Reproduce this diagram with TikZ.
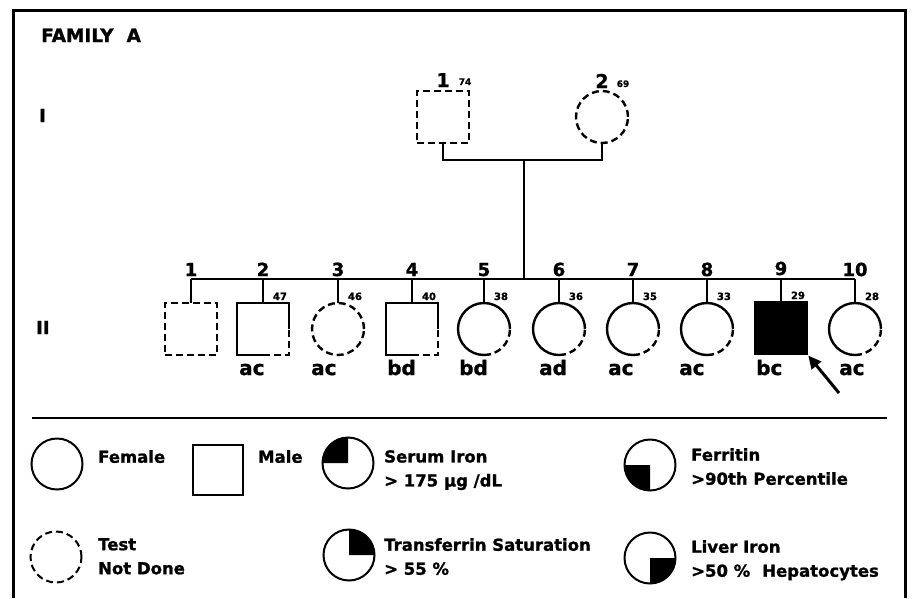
\documentclass[tikz,border=0pt]{standalone}
\usepackage{fontspec}
\setmainfont{DejaVu Sans}[BoldFeatures={FakeBold=1.2}]
\usetikzlibrary{positioning, arrows.meta, calc}

\begin{document}
\begin{tikzpicture}[x=1pt, y=-1pt, line width=2.4pt,
  fem/.style={circle, minimum size=52pt, inner sep=0pt, outer sep=0pt},
  mal/.style={rectangle, minimum size=52pt, inner sep=0pt, outer sep=0pt},
  untested/.style={dash pattern=on 7pt off 4pt},
  num/.style={font=\bfseries\fontsize{18}{18}\selectfont, inner sep=0pt, anchor=base},
  age/.style={font=\bfseries\fontsize{10}{10}\selectfont, inner sep=0pt, anchor=base},
  geno/.style={font=\bfseries\fontsize{20}{20}\selectfont, inner sep=0pt, anchor=base west},
  legtxt/.style={font=\bfseries\fontsize{16.5}{24}\selectfont, inner sep=0pt, anchor=north west, align=left},
  legsym/.style={draw, line width=2pt, minimum size=51pt, inner sep=0pt, outer sep=0pt}]
\useasboundingbox (0,0) rectangle (913,598);
% frame
\draw[line width=3pt] (13,598) -- (13,10) -- (905,10) -- (905,598);
\node[font=\bfseries\fontsize{18.5}{18}\selectfont, anchor=base west, inner sep=0pt] (title) at (40,42) {FAMILY\hspace{13pt}A};
\node[num, anchor=base west] (genI) at (38,122) {I};
\node[num, anchor=base west] (genII) at (35,334) {II};

% generation I
\node[mal, draw, untested] (i1) at (443,117) {};
\node[fem, draw, untested] (i2) at (602,117) {};
\node[num, font=\bfseries\fontsize{19}{19}\selectfont] (n-i1) at ($(i1.north)+(0pt,4pt)$) {1};
\node[num, font=\bfseries\fontsize{19}{19}\selectfont] (n-i2) at ($(i2.north)+(0pt,3pt)$) {2};
\node[age, font=\bfseries\fontsize{9}{9}\selectfont] (a-i1) at ($(i1.north)+(22pt,6pt)$) {74};
\node[age, font=\bfseries\fontsize{9}{9}\selectfont] (a-i2) at ($(i2.north)+(21pt,4pt)$) {69};
\coordinate (mate) at (524,160);
\draw (i1.south) |- (mate) -| (i2.south);

% generation II
\node[mal, draw, untested] (ii1) at (191,329) {};
\node[mal] (ii2) at (263,329) {};
\node[fem, draw, untested] (ii3) at (338,329) {};
\node[mal] (ii4) at (412,329) {};
\node[fem] (ii5) at (484,329) {};
\node[fem] (ii6) at (559,329) {};
\node[fem] (ii7) at (633,329) {};
\node[fem] (ii8) at (707,329) {};
\node[mal, draw, fill] (ii9) at (781,328) {};
\node[fem] (ii10) at (855,329) {};
\foreach \p in {ii2, ii4} {
  \draw (\p.east) |- (\p.north west) |- (\p.south);
  \draw[untested] (\p.south) -| (\p.east);
}
\foreach \p in {ii5, ii6, ii7, ii8, ii10} {
  \draw (\p.east) arc[start angle=0, end angle=270, radius=26pt];
  \draw[untested] (\p.south) arc[start angle=270, end angle=360, radius=26pt];
}
\coordinate (sibl) at (191,279);
\coordinate (sibr) at (855,279);
\draw (mate) -- (mate |- sibl);
\draw (sibl) -- (sibr);
\foreach \p/\n in {ii1/1, ii2/2, ii3/3, ii4/4, ii5/5, ii6/6, ii7/7, ii8/8, ii9/9, ii10/10} {
  \draw (\p.north) -- (\p.north |- sibl);
  \node[num] (n-\p) at ($(\p.north)+(0pt,27pt)$) {\n};
}
\foreach \p/\a in {ii2/47, ii3/46, ii4/40, ii5/38, ii6/36, ii7/35, ii8/33, ii9/29, ii10/28}
  \node[age] (a-\p) at ($(\p.north)+(17pt,3pt)$) {\a};
\foreach \p/\x/\g in {ii2/238/ac, ii3/310/ac, ii4/386/bd, ii5/458/bd, ii6/538/ad, ii7/607/ac, ii8/678/ac, ii9/755/bc, ii10/838/ac}
  \node[geno] (g-\p) at (\x,375) {\g};
\coordinate (proband) at (839,393);
\draw[line width=3pt, -{Triangle[length=13pt, width=12pt]}, shorten >=2pt] (proband) -- (ii9.south east);

% legend
\draw (32,418) -- (887,418);
\node[legsym, circle] (lfem) at (57,464) {};
\node[legtxt] (tfem) at (97,449) {Female};
\node[legsym, rectangle, minimum size=50pt] (lmal) at (218,470) {};
\node[legtxt] (tmal) at (257,449) {Male};
\node[legsym, circle] (lser) at (348,463) {};
\fill (lser.center) -- (lser.north) arc[start angle=90, end angle=180, radius=25.5pt] -- cycle;
\node[legtxt] (tser) at (383,449) {Serum Iron\\> 175 µg /dL};
\node[legsym, circle] (lfer) at (650,465) {};
\fill (lfer.center) -- (lfer.west) arc[start angle=180, end angle=270, radius=25.5pt] -- cycle;
\node[legtxt] (tfer) at (690,447) {Ferritin\\>90th Percentile};
\node[legsym, circle, untested] (lnd) at (56,557) {};
\node[legtxt] (tnd) at (97,537) {Test\\Not Done};
\node[legsym, circle] (ltra) at (349,555) {};
\fill (ltra.center) -- (ltra.east) arc[start angle=0, end angle=90, radius=25.5pt] -- cycle;
\node[legtxt] (ttra) at (383,537) {Transferrin Saturation\\> 55 \%};
\node[legsym, circle] (lliv) at (650,558) {};
\fill (lliv.center) -- (lliv.south) arc[start angle=270, end angle=360, radius=25.5pt] -- cycle;
\node[legtxt] (tliv) at (690,539) {Liver Iron\\>50 \%\hspace{12pt}Hepatocytes};
\end{tikzpicture}
\end{document}
